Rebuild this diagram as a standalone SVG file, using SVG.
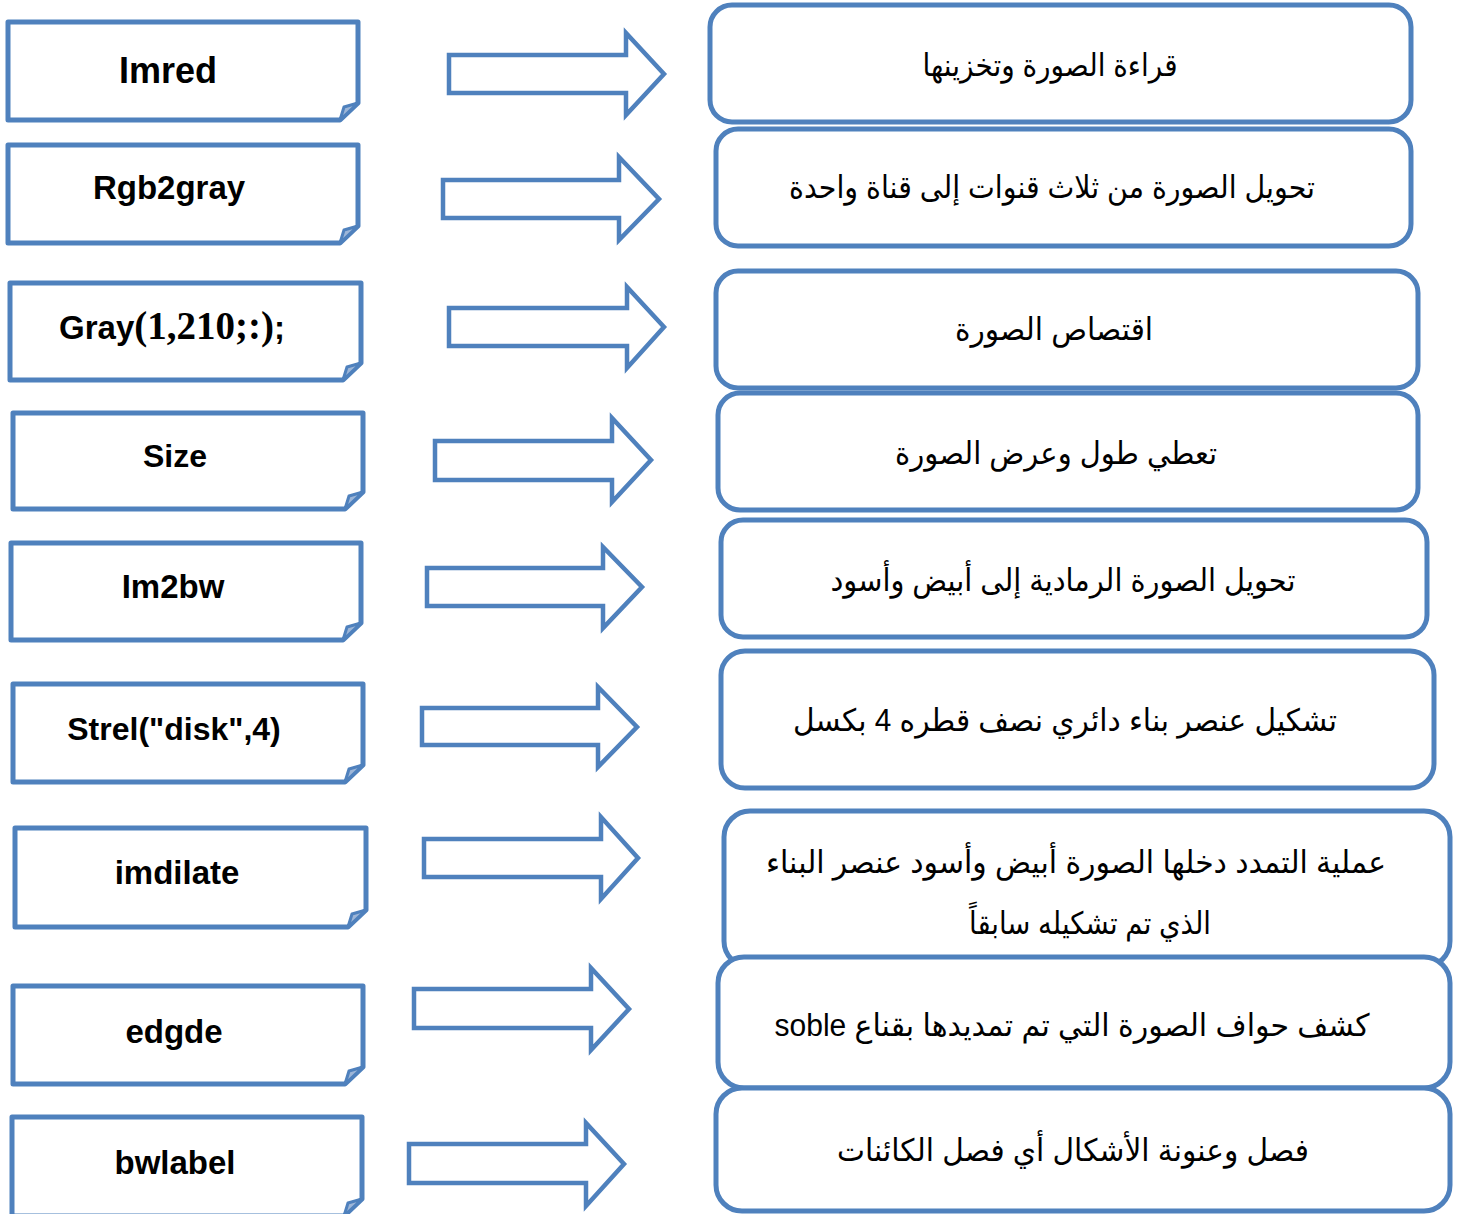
<svg xmlns="http://www.w3.org/2000/svg" width="1464" height="1214" viewBox="0 0 1464 1214">
<style>
.bx{fill:#fff;stroke:#4F81BD;stroke-width:5;stroke-linejoin:round}
.fold{fill:#9DB6D8;stroke:#4F81BD;stroke-width:3;stroke-linejoin:round}
.ar{fill:#fff;stroke:#4F81BD;stroke-width:4.5;stroke-linejoin:miter}
.rb{fill:#fff;stroke:#4F81BD;stroke-width:5}
.lt{font-family:"Liberation Sans",Arial,sans-serif;font-weight:bold;font-size:32px;fill:#000;text-anchor:middle}
.ser{font-family:"Liberation Serif","Times New Roman",serif;font-weight:bold;font-size:39px}
.at{font-family:"Liberation Sans","DejaVu Sans",sans-serif;font-size:31px;fill:#000;text-anchor:middle}
</style>
<rect width="1464" height="1214" fill="#fff"/>

<g id="connectors">
<path class="ar" d="M449,55 H626 V33 L664,74 L626,115 V93 H449 Z"/>
<path class="ar" d="M443,180 H619 V157 L659,199 L619,240 V218 H443 Z"/>
<path class="ar" d="M449,308 H627 V287 L664,327 L627,368 V346 H449 Z"/>
<path class="ar" d="M435,441 H612 V418 L651,460 L612,502 V480 H435 Z"/>
<path class="ar" d="M427,568 H603 V547 L642,587 L603,628 V606 H427 Z"/>
<path class="ar" d="M422,708 H598 V687 L637,727 L598,767 V745 H422 Z"/>
<path class="ar" d="M424,839 H601 V817 L638,858 L601,899 V877 H424 Z"/>
<path class="ar" d="M414,989 H591 V968 L629,1009 L591,1050 V1028 H414 Z"/>
<path class="ar" d="M409,1144 H586 V1123 L624,1164 L586,1206 V1183 H409 Z"/>
</g>

<g id="n1"><path class="bx" d="M8,22 H358 V103 L340,120 H8 Z"/><path class="fold" d="M340,120 L344,107 L358,103 Z"/>
<text class="lt" x="168" y="83" style="font-size:36px">Imred</text></g>
<g id="n2"><path class="bx" d="M8,145 H358 V226 L340,243 H8 Z"/><path class="fold" d="M340,243 L344,230 L358,226 Z"/>
<text class="lt" x="169" y="199" style="font-size:33px">Rgb2gray</text></g>
<g id="n3"><path class="bx" d="M10,283 H361 V363 L343,380 H10 Z"/><path class="fold" d="M343,380 L347,367 L361,363 Z"/>
<text class="lt" x="172" y="339" style="font-size:33px">Gray<tspan class="ser">(1,210;:)</tspan>;</text></g>
<g id="n4"><path class="bx" d="M13,413 H363 V492 L345,509 H13 Z"/><path class="fold" d="M345,509 L349,496 L363,492 Z"/>
<text class="lt" x="175" y="467">Size</text></g>
<g id="n5"><path class="bx" d="M11,543 H361 V623 L343,640 H11 Z"/><path class="fold" d="M343,640 L347,627 L361,623 Z"/>
<text class="lt" x="173" y="598" style="font-size:33px">Im2bw</text></g>
<g id="n6"><path class="bx" d="M13,684 H363 V765 L345,782 H13 Z"/><path class="fold" d="M345,782 L349,769 L363,765 Z"/>
<text class="lt" x="174" y="740">Strel("disk",4)</text></g>
<g id="n7"><path class="bx" d="M15,828 H366 V910 L348,927 H15 Z"/><path class="fold" d="M348,927 L352,914 L366,910 Z"/>
<text class="lt" x="177" y="884" style="font-size:33px">imdilate</text></g>
<g id="n8"><path class="bx" d="M13,986 H363 V1067 L345,1084 H13 Z"/><path class="fold" d="M345,1084 L349,1071 L363,1067 Z"/>
<text class="lt" x="174" y="1043" style="font-size:33px">edgde</text></g>
<g id="n9"><path class="bx" d="M12,1117 H362 V1199 L344,1216 H12 Z"/><path class="fold" d="M344,1216 L348,1203 L362,1199 Z"/>
<text class="lt" x="175" y="1174" style="font-size:33px">bwlabel</text></g>

<g id="r1"><rect class="rb" x="710" y="5" width="701" height="117" rx="22"/>
<text class="at" x="1050" y="76" direction="rtl" textLength="255" lengthAdjust="spacingAndGlyphs">قراءة الصورة وتخزينها</text></g>
<g id="r2"><rect class="rb" x="716" y="129" width="695" height="117" rx="22"/>
<text class="at" x="1052" y="198" direction="rtl" textLength="526" lengthAdjust="spacingAndGlyphs">تحويل الصورة من ثلاث قنوات إلى قناة واحدة</text></g>
<g id="r3"><rect class="rb" x="716" y="271" width="702" height="117" rx="22"/>
<text class="at" x="1054" y="340" direction="rtl" textLength="198" lengthAdjust="spacingAndGlyphs">اقتصاص الصورة</text></g>
<g id="r4"><rect class="rb" x="718" y="393" width="700" height="117" rx="22"/>
<text class="at" x="1056" y="464" direction="rtl" textLength="322" lengthAdjust="spacingAndGlyphs">تعطي طول وعرض الصورة</text></g>
<g id="r5"><rect class="rb" x="721" y="520" width="706" height="117" rx="22"/>
<text class="at" x="1063" y="591" direction="rtl" textLength="465" lengthAdjust="spacingAndGlyphs">تحويل الصورة الرمادية إلى أبيض وأسود</text></g>
<g id="r6"><rect class="rb" x="721" y="651" width="713" height="137" rx="24"/>
<text class="at" x="1065" y="731" direction="rtl" textLength="544" lengthAdjust="spacingAndGlyphs">تشكيل عنصر بناء دائري نصف قطره 4 بكسل</text></g>
<g id="r7"><rect class="rb" x="724" y="811" width="726" height="156" rx="26"/>
<text class="at" x="1076" y="873" direction="rtl" textLength="620" lengthAdjust="spacingAndGlyphs">عملية التمدد دخلها الصورة أبيض وأسود عنصر البناء</text>
<text class="at" x="1090" y="934" direction="rtl" textLength="242" lengthAdjust="spacingAndGlyphs">الذي تم تشكيله سابقاً</text></g>
<g id="r8"><rect class="rb" x="718" y="957" width="732" height="131" rx="26"/>
<text class="at" x="1072" y="1036" direction="rtl" textLength="595" lengthAdjust="spacingAndGlyphs">كشف حواف الصورة التي تم تمديدها بقناع  soble</text></g>
<g id="r9"><rect class="rb" x="716" y="1088" width="734" height="123" rx="26"/>
<text class="at" x="1073" y="1161" direction="rtl" textLength="472" lengthAdjust="spacingAndGlyphs">فصل وعنونة الأشكال أي فصل الكائنات</text></g>
</svg>
